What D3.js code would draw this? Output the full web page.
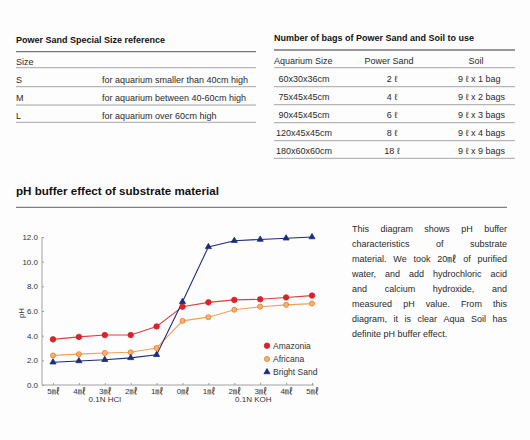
<!DOCTYPE html>
<html>
<head>
<meta charset="utf-8">
<script src="https://cdn.jsdelivr.net/npm/d3@7"></script>
<style>
  html, body { margin: 0; padding: 0; background: #fdfdfd; }
  svg { display: block; }
  text { font-family: "Liberation Sans", Arial, "Noto Sans CJK JP", sans-serif; }
</style>
</head>
<body>
<svg id="chart" width="530" height="440"></svg>
<script>
// ---------- data ----------
const sizeTitle = "Power Sand Special Size reference";
const sizeHeader = "Size";
const sizeCodes = ["S", "M", "L"];
const sizeDescriptions = [
  "for aquarium smaller than 40cm high",
  "for aquarium between 40-60cm high",
  "for aquarium over 60cm high"
];

const bagsTitle = "Number of bags of Power Sand and Soil to use";
const bagsHeaders = ["Aquarium Size", "Power Sand", "Soil"];
const aquariumSizes = ["60x30x36cm", "75x45x45cm", "90x45x45cm", "120x45x45cm", "180x60x60cm"];
const powerSandAmounts = ["2 ℓ", "4 ℓ", "6 ℓ", "8 ℓ", "18 ℓ"];
const soilAmounts = ["9 ℓ x 1 bag", "9 ℓ x 2 bags", "9 ℓ x 3 bags", "9 ℓ x 4 bags", "9 ℓ x 9 bags"];

const chartTitle = "pH buffer effect of substrate material";
const xLabels = ["5㎖", "4㎖", "3㎖", "2㎖", "1㎖", "0㎖", "1㎖", "2㎖", "3㎖", "4㎖", "5㎖"];
const yTicks = [0, 2, 4, 6, 8, 10, 12];
const amazonia   = [3.7, 3.9, 4.05, 4.05, 4.75, 6.35, 6.7, 6.9, 6.95, 7.1, 7.25];
const africana   = [2.4, 2.5, 2.6, 2.65, 3.0, 5.2, 5.5, 6.1, 6.35, 6.5, 6.6];
const brightSand = [1.85, 1.95, 2.05, 2.2, 2.45, 6.75, 11.2, 11.7, 11.8, 11.9, 12.0];
const seriesNames = ["Amazonia", "Africana", "Bright Sand"];
const acidLabel = "0.1N HCl";
const baseLabel = "0.1N KOH";

const paragraphLines = [
  "This diagram shows pH buffer",
  "characteristics of substrate",
  "material. We took 20㎖ of purified",
  "water, and add hydrochloric acid",
  "and calcium hydroxide, and",
  "measured pH value. From this",
  "diagram, it is clear Aqua Soil has",
  "definite pH buffer effect."
];

// ---------- drawing ----------
const svg = d3.select("#chart");
const ink = "#2a2a2a";
const bodySize = 9;

// Table 1
const t1 = svg.append("g");
t1.append("text").attr("x", 16).attr("y", 43).attr("font-size", 9).attr("font-weight", "bold")
  .attr("fill", "#111").text(sizeTitle);
t1.append("line").attr("x1", 16).attr("x2", 256).attr("y1", 51.7).attr("y2", 51.7)
  .attr("stroke", "#777").attr("stroke-width", 1.3);
const t1RowY = [61.7, 80, 97.7, 116];
const t1LineY = [67.7, 86.7, 105, 122.3];
t1.append("text").attr("x", 16).attr("y", t1RowY[0] + 3.2).attr("font-size", bodySize).attr("fill", ink).text(sizeHeader);
sizeCodes.forEach((s, i) => {
  t1.append("text").attr("x", 16).attr("y", t1RowY[i + 1] + 3.2).attr("font-size", bodySize).attr("fill", ink).text(s);
  t1.append("text").attr("x", 102).attr("y", t1RowY[i + 1] + 3.2).attr("font-size", bodySize).attr("fill", ink).text(sizeDescriptions[i]);
});
t1LineY.forEach(y => t1.append("line").attr("x1", 16).attr("x2", 256).attr("y1", y).attr("y2", y)
  .attr("stroke", "#9a9a9a").attr("stroke-width", 0.9));

// Table 2
const t2 = svg.append("g");
t2.append("text").attr("x", 274).attr("y", 41.3).attr("font-size", 9).attr("font-weight", "bold")
  .attr("fill", "#111").text(bagsTitle);
t2.append("line").attr("x1", 274).attr("x2", 515).attr("y1", 50).attr("y2", 50)
  .attr("stroke", "#777").attr("stroke-width", 1.3);
const t2RowY = [79, 97, 115, 133, 151];
const t2LineY = [67.7, 86.7, 104.7, 122.7, 140.7, 158.3];
t2.append("text").attr("x", 274).attr("y", 63.9).attr("font-size", bodySize).attr("fill", ink).text(bagsHeaders[0]);
t2.append("text").attr("x", 389).attr("y", 63.9).attr("font-size", bodySize).attr("fill", ink).attr("text-anchor", "middle").text(bagsHeaders[1]);
t2.append("text").attr("x", 476).attr("y", 63.9).attr("font-size", bodySize).attr("fill", ink).attr("text-anchor", "middle").text(bagsHeaders[2]);
aquariumSizes.forEach((s, i) => {
  const y = t2RowY[i] + 3.2;
  t2.append("text").attr("x", 304).attr("y", y).attr("font-size", bodySize).attr("fill", ink).attr("text-anchor", "middle").text(s);
  t2.append("text").attr("x", 392).attr("y", y).attr("font-size", bodySize).attr("fill", ink).attr("text-anchor", "middle").text(powerSandAmounts[i]);
  t2.append("text").attr("x", 458).attr("y", y).attr("font-size", bodySize).attr("fill", ink).text(soilAmounts[i]);
});
t2LineY.forEach(y => t2.append("line").attr("x1", 274).attr("x2", 515).attr("y1", y).attr("y2", y)
  .attr("stroke", "#9a9a9a").attr("stroke-width", 0.9));

// Chart title
svg.append("text").attr("x", 16).attr("y", 195).attr("font-size", 11.6).attr("font-weight", "bold")
  .attr("fill", "#111").text(chartTitle);
svg.append("line").attr("x1", 16).attr("x2", 507).attr("y1", 207.3).attr("y2", 207.3)
  .attr("stroke", "#808080").attr("stroke-width", 1.3);

// Chart
const x = d3.scalePoint().domain(d3.range(xLabels.length)).range([53, 312]);
const y = d3.scaleLinear().domain([0, 12]).range([385, 237]);
const axisColor = "#a0a0a0";

const gy = svg.append("g").attr("transform", "translate(42,0)")
  .call(d3.axisLeft(y).tickValues(yTicks).tickFormat(d3.format(".1f")).tickSize(2).tickPadding(2));
const gx = svg.append("g").attr("transform", "translate(0,385)")
  .call(d3.axisBottom(x).tickFormat(i => xLabels[i]).tickSize(2).tickPadding(1));
[gx, gy].forEach(g => {
  g.select(".domain").remove();
  g.selectAll(".tick line").attr("stroke", axisColor);
  g.selectAll(".tick text").attr("fill", "#333").attr("font-size", 8)
    .attr("font-family", "\"Liberation Sans\", Arial, \"Noto Sans CJK JP\", sans-serif");
});
gx.selectAll(".tick line").attr("y2", -2);
gy.selectAll(".tick line").attr("x2", 2);
svg.append("line").attr("x1", 42).attr("x2", 42).attr("y1", y(12)).attr("y2", y(0))
  .attr("stroke", axisColor).attr("stroke-width", 1);
svg.append("line").attr("x1", 42).attr("x2", 314).attr("y1", y(0)).attr("y2", y(0))
  .attr("stroke", axisColor).attr("stroke-width", 1);

svg.append("text").attr("transform", "translate(24,313) rotate(-90)").attr("text-anchor", "middle")
  .attr("font-size", 8).attr("fill", "#333").text("pH");
svg.append("text").attr("x", x(2)).attr("y", 402).attr("text-anchor", "middle")
  .attr("font-size", 8).attr("fill", "#333").text(acidLabel);
svg.append("text").attr("x", (x(7) + x(8)) / 2 + 6).attr("y", 402).attr("text-anchor", "middle")
  .attr("font-size", 8).attr("fill", "#333").text(baseLabel);

const series = [
  { name: seriesNames[0], values: amazonia, line: "#d9403f", fill: "#d8232a", stroke: "#d8232a", sym: d3.symbolCircle, size: 24 },
  { name: seriesNames[1], values: africana, line: "#f0a05a", fill: "#f6b46e", stroke: "#e9762a", sym: d3.symbolCircle, size: 20 },
  { name: seriesNames[2], values: brightSand, line: "#1d2c7c", fill: "#1d2c7c", stroke: "#1d2c7c", sym: d3.symbolTriangle, size: 16 }
];
const lineGen = d3.line().x((d, i) => x(i)).y(d => y(d));
series.forEach(s => {
  svg.append("path").datum(s.values).attr("d", lineGen).attr("fill", "none")
    .attr("stroke", s.line).attr("stroke-width", 1.1);
});
series.forEach(s => {
  svg.append("g").selectAll("path").data(s.values).join("path")
    .attr("transform", (d, i) => `translate(${x(i)},${y(d)})`)
    .attr("d", d3.symbol(s.sym, s.size))
    .attr("fill", s.fill).attr("stroke", s.stroke).attr("stroke-width", 0.8);
});

// Legend
const legendY = [345.7, 359, 372];
series.forEach((s, i) => {
  svg.append("path").attr("transform", `translate(267,${legendY[i]})`)
    .attr("d", d3.symbol(s.sym, s.size)).attr("fill", s.fill).attr("stroke", s.stroke).attr("stroke-width", 0.8);
  svg.append("text").attr("x", 273).attr("y", legendY[i] + 3).attr("font-size", 8.5)
    .attr("fill", "#333").text(s.name);
});

// Paragraph (justified)
const pLeft = 352, pRight = 507, pTop = 231.5, pStep = 15;
paragraphLines.forEach((line, li) => {
  const by = pTop + li * pStep;
  const last = li === paragraphLines.length - 1;
  if (last) {
    svg.append("text").attr("x", pLeft).attr("y", by).attr("font-size", 9).attr("fill", ink).text(line);
    return;
  }
  const words = line.split(" ");
  const nodes = words.map(w => svg.append("text").attr("y", by).attr("font-size", 9).attr("fill", ink).text(w));
  const widths = nodes.map(n => n.node().getComputedTextLength());
  const total = d3.sum(widths);
  const gap = words.length > 1 ? (pRight - pLeft - total) / (words.length - 1) : 0;
  let cx = pLeft;
  nodes.forEach((n, k) => { n.attr("x", cx); cx += widths[k] + gap; });
});
</script>
</body>
</html>
